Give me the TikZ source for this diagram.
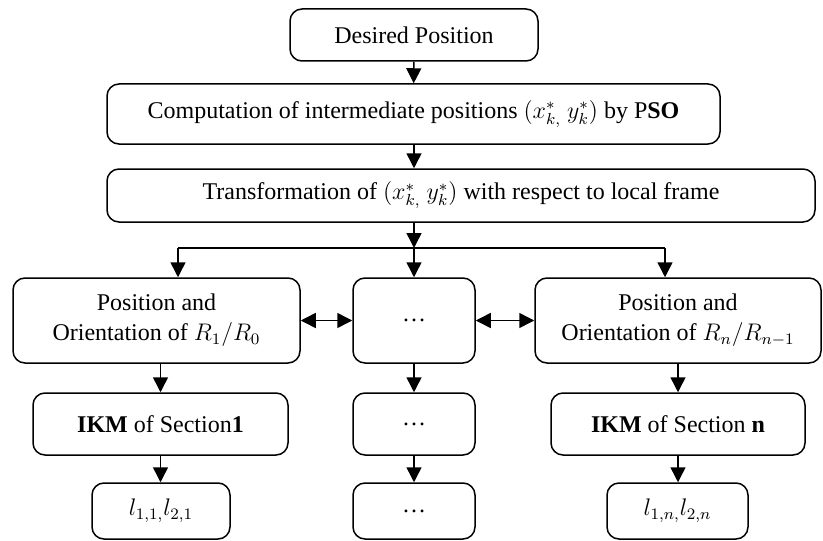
\documentclass[tikz,border=0pt]{standalone}
\usepackage{fontspec}
\setmainfont{Liberation Serif}
\usetikzlibrary{arrows.meta}
\tikzset{
  blk/.style={draw, line width=0.75pt, rounded corners=6pt, align=center, inner sep=2pt},
  arr/.style={-{Triangle[length=7.5pt,width=7.5pt]}, line width=0.75pt},
  darr/.style={{Triangle[length=7.5pt,width=7.5pt]}-{Triangle[length=7.5pt,width=7.5pt]}, line width=0.75pt}
}
\begin{document}
\begin{tikzpicture}[x=0.5pt, y=-0.5pt, font=\fontsize{12}{15}\selectfont]
    \useasboundingbox (0,0) rectangle (823,540);
    % top chain
    \node[blk, minimum width=124pt, minimum height=26pt] (des) at (414,35) {Desired Position};
    \node[blk, minimum width=306.5pt, minimum height=30pt] (comp) at (413.5,114)
        {Computation of intermediate positions $(x^{*}_{k,}\ y^{*}_{k})$ by P\textbf{SO}};
    \node[blk, minimum width=354pt, minimum height=26.5pt] (trans) at (461,195.5)
        {Transformation of $(x^{*}_{k,}\ y^{*}_{k})$ with respect to local frame};
    % sections
    \node[blk, minimum width=143.5pt, minimum height=42.5pt] (pos1) at (156.5,320.5)
        {Position and\\ Orientation of $R_1/R_0$};
    \node[blk, minimum width=61pt, minimum height=42.5pt] (dots1) at (414,320.5) {\ldots};
    \node[blk, minimum width=143pt, minimum height=42.5pt] (posn) at (678,320.5)
        {Position and\\ Orientation of $R_n/R_{n-1}$};
    \node[blk, minimum width=127.5pt, minimum height=31pt] (ikm1) at (160.5,424) {\textbf{IKM} of Section\textbf{1}};
    \node[blk, minimum width=61pt, minimum height=31pt] (dots2) at (414,424) {\ldots};
    \node[blk, minimum width=127pt, minimum height=31pt] (ikmn) at (678,424) {\textbf{IKM} of Section \textbf{n}};
    \node[blk, minimum width=69pt, minimum height=28pt] (l1) at (161,511) {$l_{1,1,}l_{2,1}$};
    \node[blk, minimum width=61pt, minimum height=28pt] (dots3) at (414,511) {\ldots};
    \node[blk, minimum width=70.5pt, minimum height=28pt] (ln) at (677.5,511) {$l_{1,n,}l_{2,n}$};
    % branch
    \coordinate (br) at (414,248);
    \coordinate (brl) at (178,248);
    \coordinate (brr) at (665,248);
    \draw[arr] (des) -- (comp);
    \draw[arr] (comp.south -| des) -- (trans.north -| des);
    \draw[arr] (trans.south -| br) -- (br);
    \draw[line width=0.75pt] (brl) -- (brr);
    \draw[arr] (brl) -- (brl |- pos1.north);
    \draw[arr] (br) -- (dots1);
    \draw[arr] (brr) -- (brr |- posn.north);
    \draw[darr] (pos1) -- (dots1);
    \draw[darr] (dots1) -- (posn);
    \draw[arr] (pos1.south -| ikm1) -- (ikm1);
    \draw[arr] (ikm1) -- (l1.north -| ikm1);
    \draw[arr] (dots1) -- (dots2);
    \draw[arr] (dots2) -- (dots3);
    \draw[arr] (posn) -- (ikmn);
    \draw[arr] (ikmn) -- (ln.north -| ikmn);
\end{tikzpicture}
\end{document}
